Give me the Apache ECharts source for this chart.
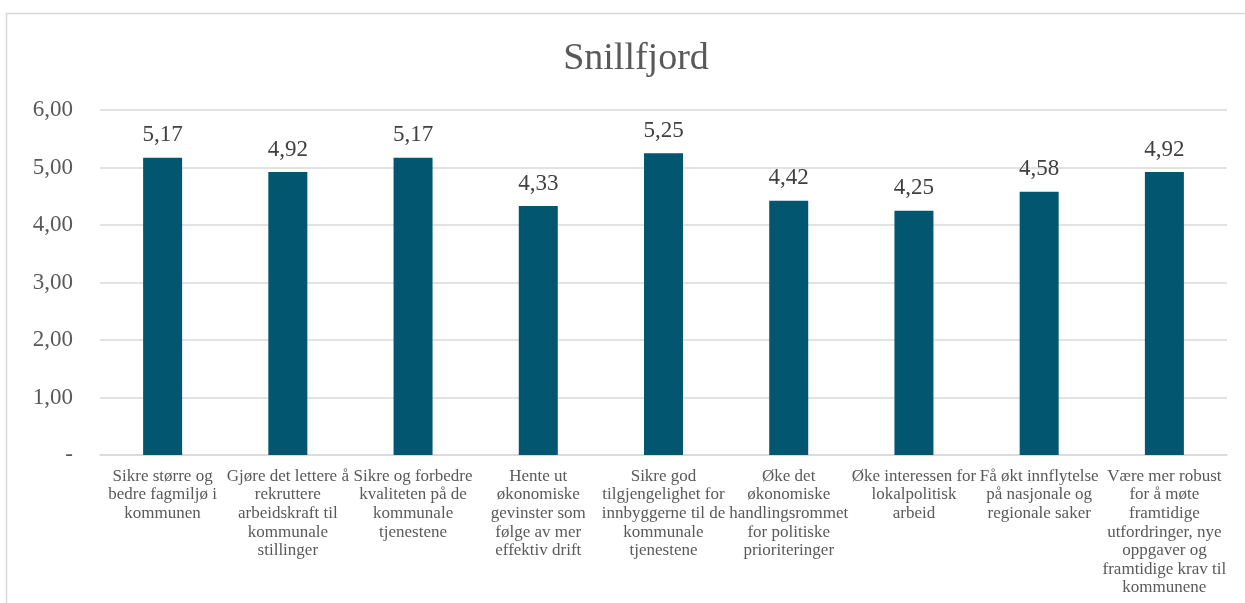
<!DOCTYPE html>
<html>
<head>
<meta charset="utf-8">
<script src="https://cdn.jsdelivr.net/npm/echarts@6/dist/echarts.min.js"></script>
<style>
html,body{margin:0;padding:0;background:#fff;}
#chart{width:1245px;height:603px;}
</style>
</head>
<body>
<div id="chart"></div>
<script>
const title = 'Snillfjord';
const categories = [
  'Sikre større og\nbedre fagmiljø i\nkommunen',
  'Gjøre det lettere å\nrekruttere\narbeidskraft til\nkommunale\nstillinger',
  'Sikre og forbedre\nkvaliteten på de\nkommunale\ntjenestene',
  'Hente ut\nøkonomiske\ngevinster som\nfølge av mer\neffektiv drift',
  'Sikre god\ntilgjengelighet for\ninnbyggerne til de\nkommunale\ntjenestene',
  'Øke det\nøkonomiske\nhandlingsrommet\nfor politiske\nprioriteringer',
  'Øke interessen for\nlokalpolitisk\narbeid',
  'Få økt innflytelse\npå nasjonale og\nregionale saker',
  'Være mer robust\nfor å møte\nframtidige\nutfordringer, nye\noppgaver og\nframtidige krav til\nkommunene'
];
const values = [5.17, 4.92, 5.17, 4.33, 5.25, 4.42, 4.25, 4.58, 4.92];
const yTicks = { min: 0, max: 6, interval: 1 };

const fmt = v => v === 0 ? '-' : v.toFixed(2).replace('.', ',');
const font = '"Liberation Serif", "DejaVu Serif", serif';
const textColor = '#595959';

const chart = echarts.init(document.getElementById('chart'));
chart.setOption({
  animation: false,
  backgroundColor: '#fff',
  graphic: [{
    type: 'rect',
    shape: { x: 6.5, y: 13.5, width: 1260, height: 620 },
    style: { fill: 'none', stroke: '#d9d9d9', lineWidth: 1.5 },
    silent: true
  }],
  title: {
    text: title,
    left: 631,
    textAlign: 'center',
    top: 35,
    textStyle: { fontFamily: font, fontSize: 38, fontWeight: 'normal', color: textColor }
  },
  grid: { left: 100, right: 18, top: 110, bottom: 148, containLabel: false },
  xAxis: {
    type: 'category',
    data: categories,
    axisLine: { lineStyle: { color: '#d9d9d9', width: 1.5 } },
    axisTick: { show: false },
    axisLabel: {
      interval: 0,
      margin: 12,
      fontFamily: font,
      fontSize: 17,
      lineHeight: 18.6,
      color: textColor
    }
  },
  yAxis: {
    type: 'value',
    min: yTicks.min,
    max: yTicks.max,
    interval: yTicks.interval,
    axisLine: { show: false },
    axisTick: { show: false },
    splitLine: { lineStyle: { color: '#d9d9d9', width: 1.5 } },
    axisLabel: {
      formatter: fmt,
      margin: 27,
      fontFamily: font,
      fontSize: 23,
      color: textColor
    }
  },
  series: [{
    type: 'bar',
    data: values,
    barWidth: 39,
    itemStyle: { color: '#02566f' },
    label: {
      show: true,
      position: 'top',
      distance: 11,
      formatter: p => fmt(p.value),
      fontFamily: font,
      fontSize: 23,
      color: '#404040'
    }
  }]
});
</script>
</body>
</html>
